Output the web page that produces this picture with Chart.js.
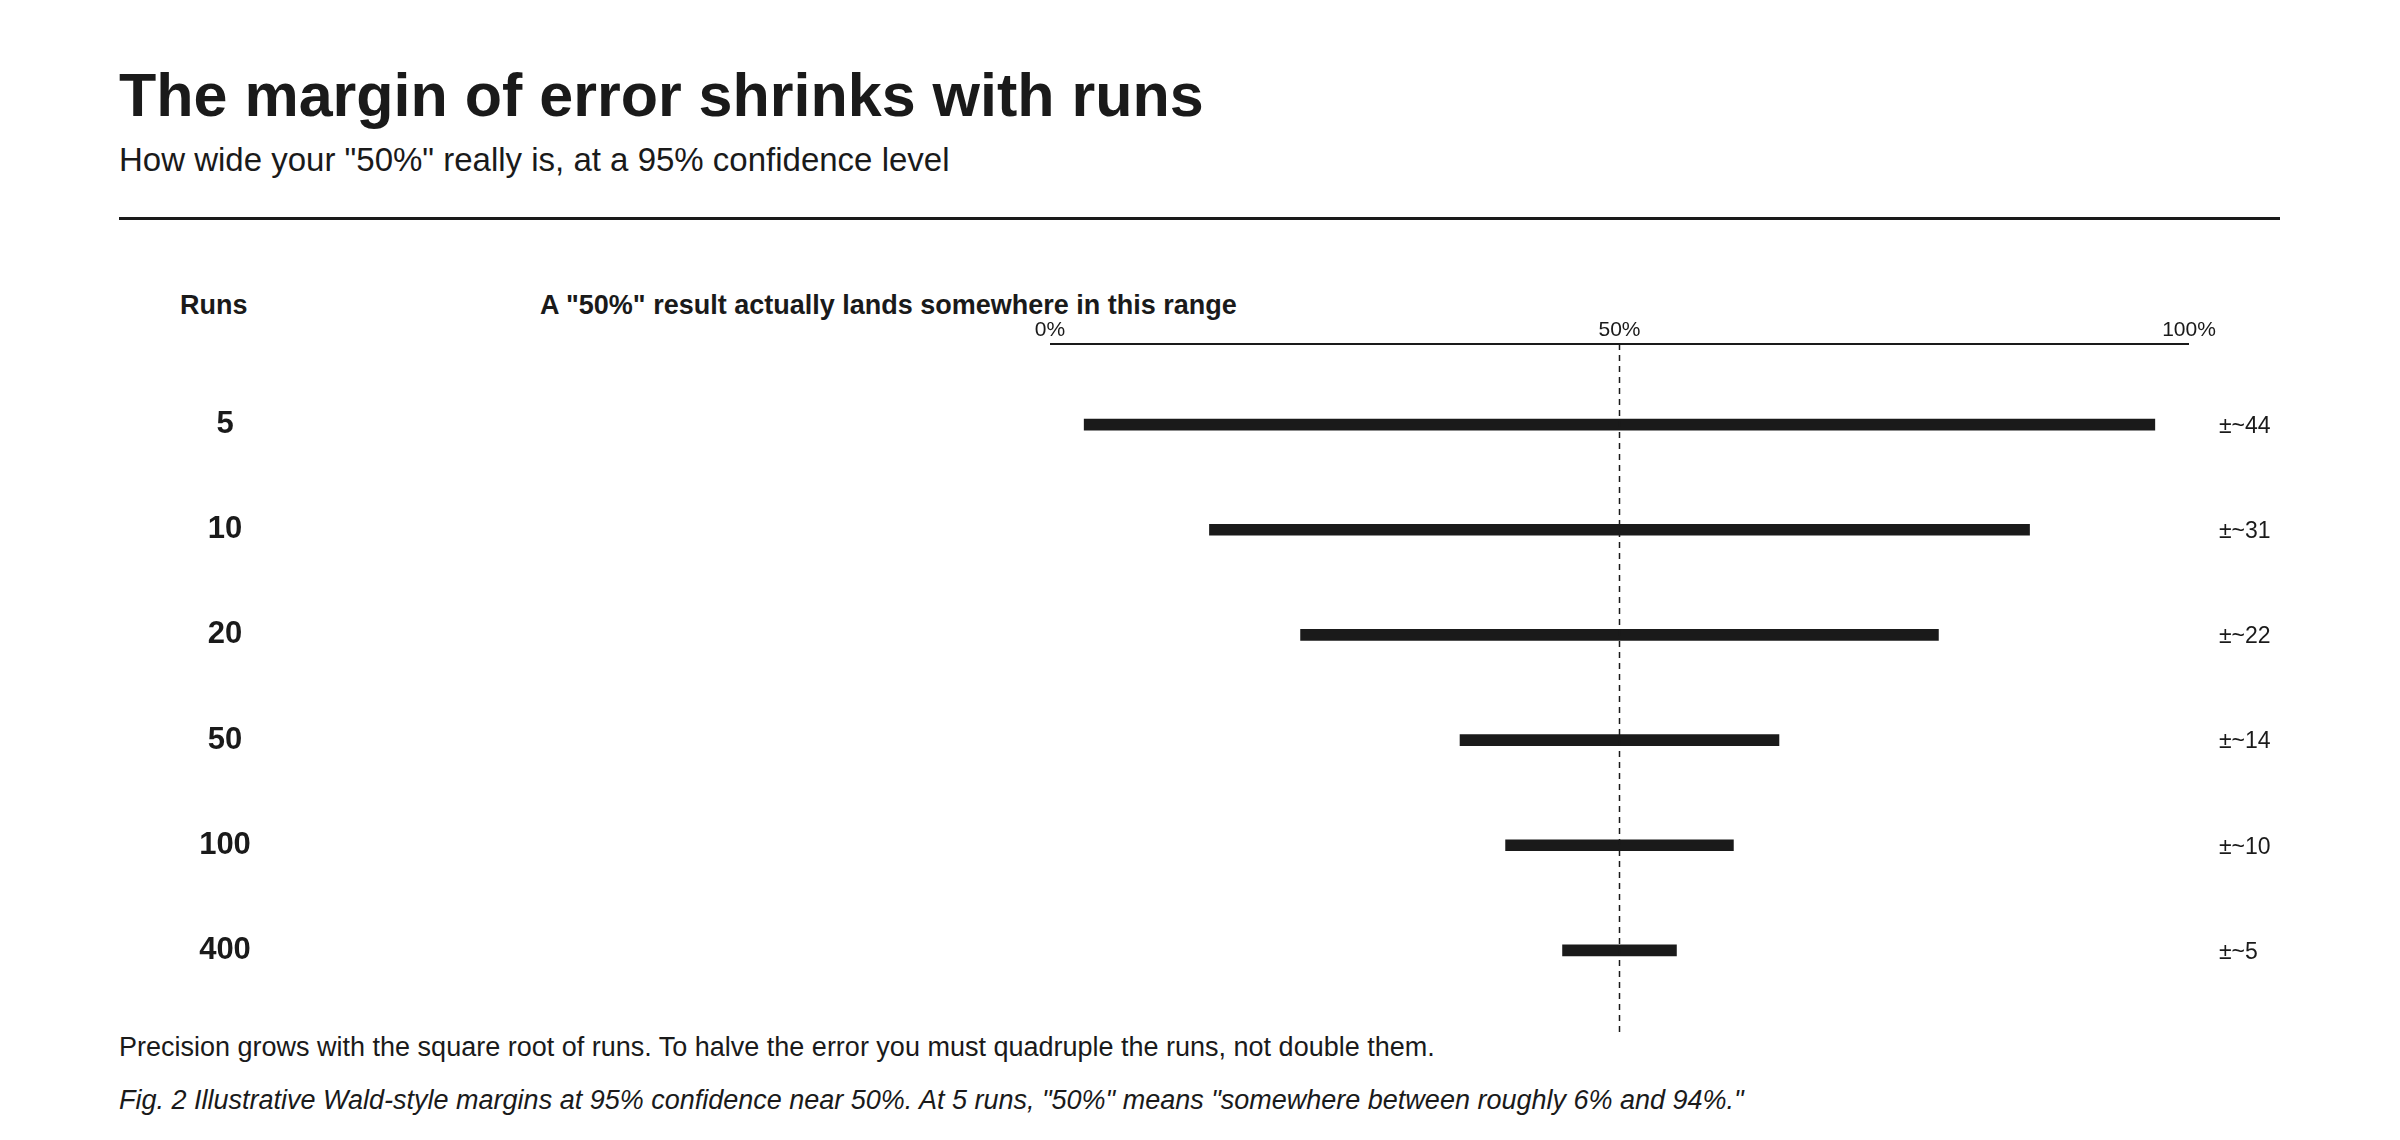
<!DOCTYPE html>
<html><head><meta charset="utf-8">
<script src="https://cdn.jsdelivr.net/npm/chart.js@4"></script>
<style>
body{margin:0;width:2400px;height:1140px;background:#fff;font-family:"Liberation Sans",Arial,sans-serif;color:#1a1a1a;position:relative;overflow:hidden}
.t{position:absolute;white-space:nowrap}
#c{position:absolute;left:0;top:0}
</style></head><body>
<div class="t" style="left:119px;top:60px;font-size:61px;font-weight:bold">The margin of error shrinks with runs</div>
<div class="t" style="left:119px;top:141px;font-size:33px">How wide your "50%" really is, at a 95% confidence level</div>
<div style="position:absolute;left:119px;top:217px;width:2161px;height:3px;background:#1a1a1a"></div>
<div class="t" style="left:180px;top:290px;font-size:27px;font-weight:bold">Runs</div>
<div class="t" style="left:540px;top:290px;font-size:27px;font-weight:bold">A "50%" result actually lands somewhere in this range</div>
<div class="t" style="left:119px;top:1032px;font-size:27px">Precision grows with the square root of runs. To halve the error you must quadruple the runs, not double them.</div>
<div class="t" style="left:119px;top:1085px;font-size:27px;font-style:italic">Fig. 2 Illustrative Wald-style margins at 95% confidence near 50%. At 5 runs, "50%" means "somewhere between roughly 6% and 94%."</div>
<canvas id="c" width="2400" height="1140"></canvas>
<script>
const runs = ["5","10","20","50","100","400"];
const lows = [3, 14, 22, 36, 40, 45];
const highs = [97, 86, 78, 64, 60, 55];
const marginLabels = ["±~44","±~31","±~22","±~14","±~10","±~5"];
const tickValues = [0, 50, 100];
const tickLabels = ["0%","50%","100%"];

const deco = {
  id:'deco',
  afterDraw(ch){
    const c=ch.ctx, x=ch.scales.x, y=ch.scales.y;
    c.save();
    c.fillStyle='#1a1a1a'; c.strokeStyle='#1a1a1a';
    // axis line
    c.lineWidth=2; c.beginPath(); c.moveTo(x.getPixelForValue(0),344); c.lineTo(x.getPixelForValue(100),344); c.stroke();
    // tick labels
    c.font='21px "Liberation Sans", Arial, sans-serif'; c.textAlign='center'; c.textBaseline='middle';
    tickValues.forEach((v,i)=>c.fillText(tickLabels[i], x.getPixelForValue(v), 330));
    // dashed 50 line
    c.lineWidth=1.5; c.setLineDash([6,5]); c.beginPath();
    c.moveTo(x.getPixelForValue(50),344); c.lineTo(x.getPixelForValue(50),1033); c.stroke(); c.setLineDash([]);
    // row labels
    runs.forEach((r,i)=>{
      const py=y.getPixelForValue(i);
      c.font='bold 31px "Liberation Sans", Arial, sans-serif'; c.textAlign='center';
      c.fillText(r,225,py);
      c.font='23px "Liberation Sans", Arial, sans-serif'; c.textAlign='left';
      c.fillText(marginLabels[i],2219,py+2);
    });
    c.restore();
  }
};
new Chart(document.getElementById('c'),{
  type:'bar',
  data:{labels:runs,datasets:[{data:runs.map((r,i)=>[lows[i],highs[i]]),backgroundColor:'#1a1a1a',barThickness:11}]},
  options:{
    indexAxis:'y',responsive:false,animation:false,
    layout:{padding:{left:1050,right:211,top:372,bottom:137}},
    plugins:{legend:{display:false},tooltip:{enabled:false}},
    scales:{
      x:{display:false,min:0,max:100},
      y:{display:false,offset:true}
    }
  },
  plugins:[deco]
});
</script>
</body></html>
